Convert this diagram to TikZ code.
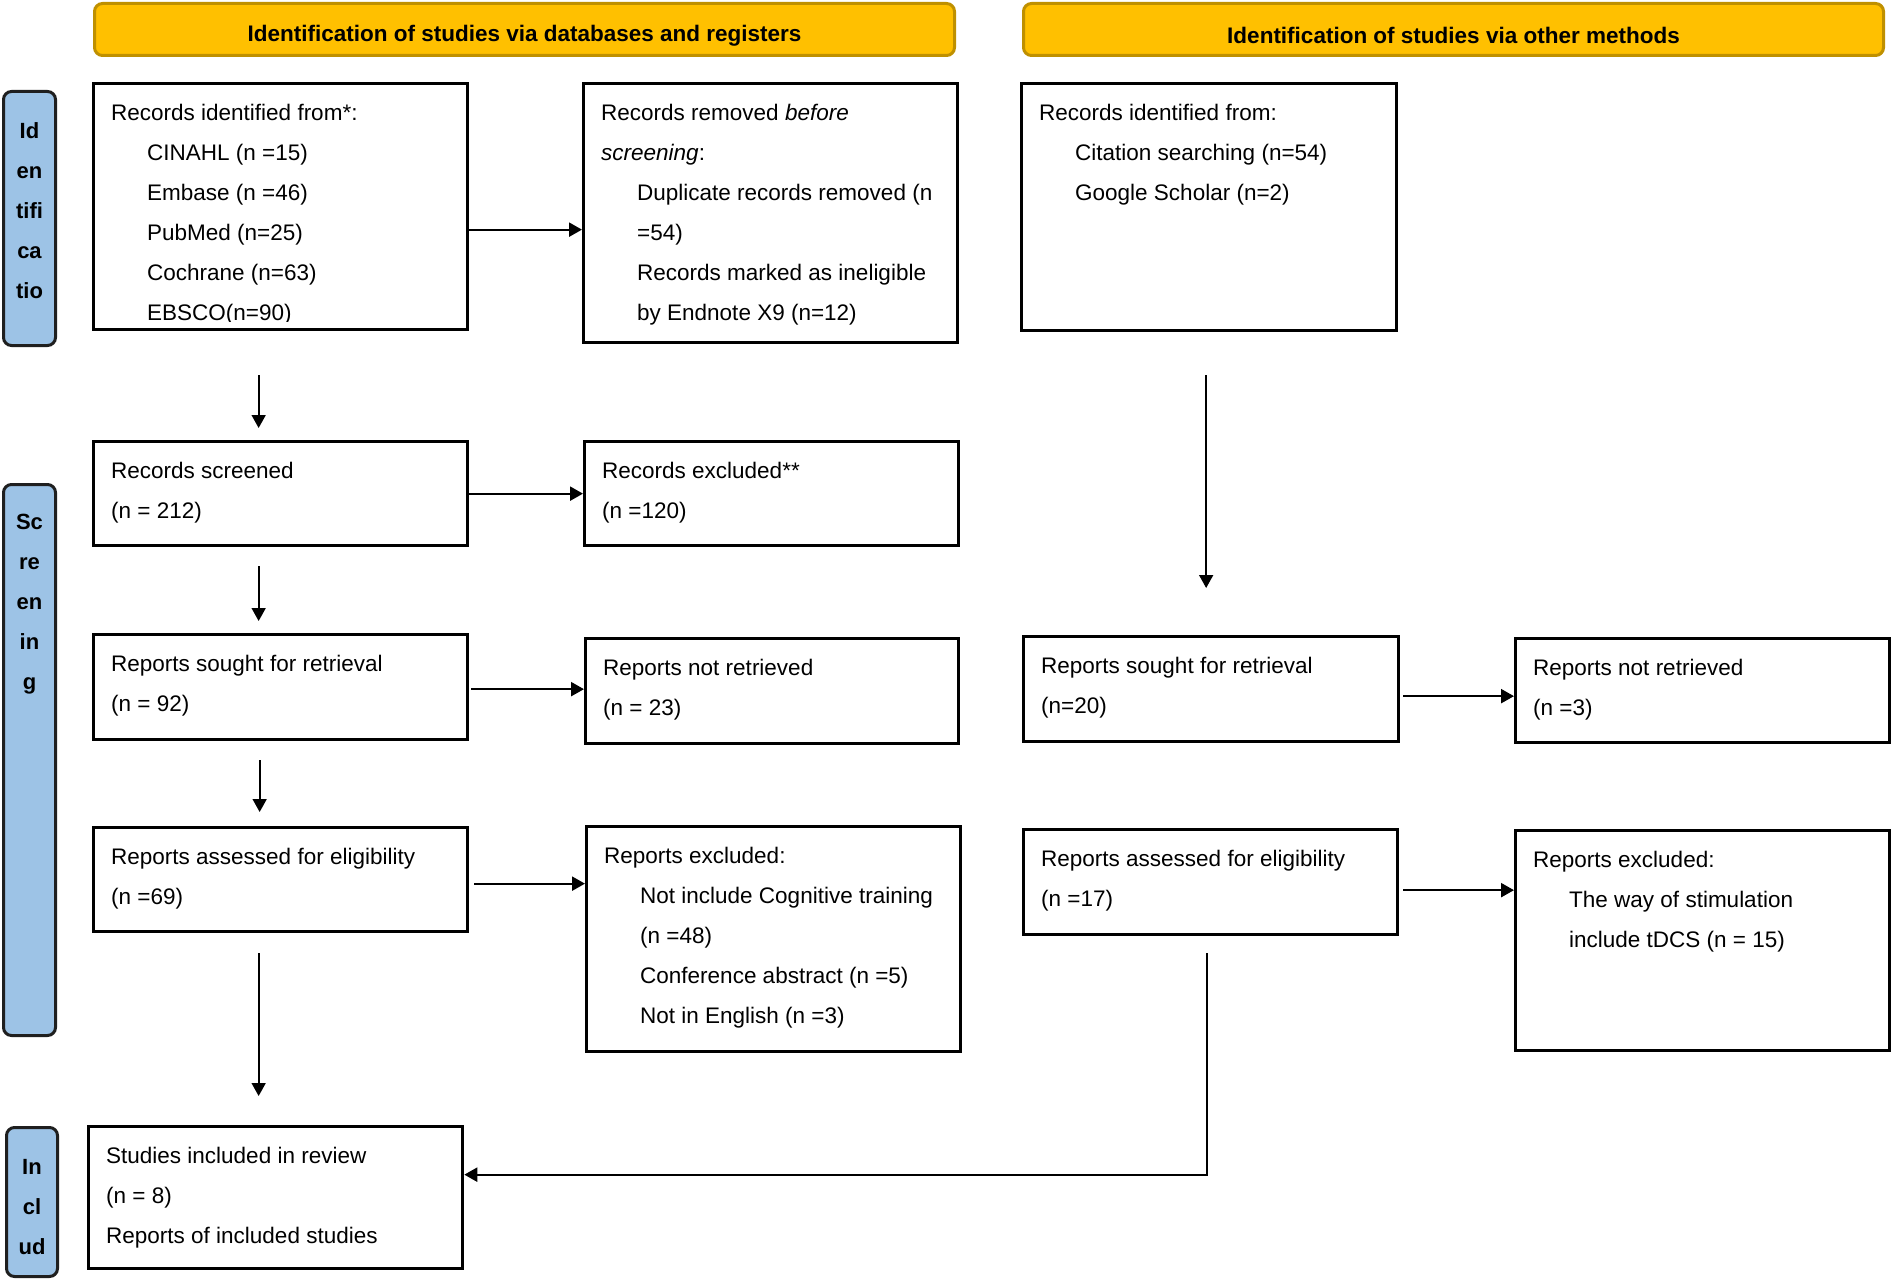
\documentclass[tikz,border=0pt]{standalone}
\usepackage{fontspec}
\setmainfont{Liberation Sans}
\usetikzlibrary{arrows.meta,calc}
\definecolor{hdrfill}{HTML}{FFC000}
\definecolor{hdrline}{HTML}{BF9000}
\definecolor{sidefill}{HTML}{9DC3E6}
\definecolor{sideline}{HTML}{1F1F1F}
\newcommand{\ind}{\hspace*{36pt}}
\tikzset{
 box/.style={draw, line width=3.3pt, inner sep=0pt, anchor=north west},
 txt/.style={inner sep=0pt, anchor=north west, align=left, font=\fontsize{22.5}{40}\selectfont},
 hdr/.style={draw=hdrline, fill=hdrfill, line width=3pt, rounded corners=8pt, anchor=north west, inner sep=0pt},
 hdrtxt/.style={inner sep=0pt, font=\bfseries\fontsize{22.5}{27}\selectfont},
 side/.style={draw=sideline, fill=sidefill, line width=3pt, rounded corners=8pt, anchor=north west, inner sep=0pt},
 sidetxt/.style={inner sep=0pt, anchor=north, align=center, font=\bfseries\fontsize{22}{40}\selectfont},
 harr/.style={line width=2.3pt, -{Triangle[length=13pt,width=14pt]}},
 varr/.style={line width=1.7pt, -{Triangle[length=13pt,width=14pt]}},
}
\begin{document}
\begin{tikzpicture}[x=1pt,y=-1pt]
\useasboundingbox (0,0) rectangle (1892,1279);
% headers
\node[hdr, minimum width=860pt, minimum height=52pt] (H1) at (93,2) {};
\node[hdrtxt] (H1t) at ([yshift=-6pt]H1.center) {Identification of studies via databases and registers};
\node[hdr, minimum width=860pt, minimum height=52pt] (H2) at (1022,2) {};
\node[hdrtxt] (H2t) at ([yshift=-6pt]H2.center) {Identification of studies via other methods};
% side labels
\node[side, minimum width=52pt, minimum height=254pt] (S1) at (2,90) {};
\node[sidetxt] (S1t) at ([yshift=-32pt]S1.north) {Id\\en\\tifi\\ca\\tio};
\node[side, minimum width=52pt, minimum height=551pt] (S2) at (2,483) {};
\node[sidetxt] (S2t) at ([yshift=-31pt]S2.north) {Sc\\re\\en\\in\\g};
\node[side, minimum width=51pt, minimum height=149pt] (S3) at (5,1126) {};
\node[sidetxt] (S3t) at ([yshift=-33pt]S3.north) {In\\cl\\ud};
% boxes
\node[box, minimum width=374pt, minimum height=246pt] (A) at (92,82) {};
\node[box, minimum width=374pt, minimum height=259pt] (B) at (582,82) {};
\node[box, minimum width=375pt, minimum height=247pt] (C) at (1020,82) {};
\node[box, minimum width=374pt, minimum height=104pt] (D) at (92,440) {};
\node[box, minimum width=374pt, minimum height=104pt] (E) at (583,440) {};
\node[box, minimum width=374pt, minimum height=105pt] (F) at (92,633) {};
\node[box, minimum width=373pt, minimum height=105pt] (G) at (584,637) {};
\node[box, minimum width=375pt, minimum height=105pt] (H) at (1022,635) {};
\node[box, minimum width=374pt, minimum height=104pt] (I) at (1514,637) {};
\node[box, minimum width=374pt, minimum height=104pt] (J) at (92,826) {};
\node[box, minimum width=374pt, minimum height=225pt] (K) at (585,825) {};
\node[box, minimum width=374pt, minimum height=105pt] (L) at (1022,828) {};
\node[box, minimum width=374pt, minimum height=220pt] (M) at (1514,829) {};
\node[box, minimum width=374pt, minimum height=142pt] (N) at (87,1125) {};
% texts
\begin{scope}
\clip (A.north west) rectangle ([yshift=10pt]A.south east);
\node[txt] (At) at ([shift={(19,22)}]A.north west) {Records identified from*:\\\ind CINAHL (n =15)\\\ind Embase (n =46)\\\ind PubMed (n=25)\\\ind Cochrane (n=63)\\\ind EBSCO(n=90)};
\end{scope}
\node[txt] (Bt) at ([shift={(19,22)}]B.north west) {Records removed \textit{before}\\\textit{screening}:\\\ind Duplicate records removed (n\\\ind =54)\\\ind Records marked as ineligible\\\ind by Endnote X9 (n=12)};
\node[txt] (Ct) at ([shift={(19,22)}]C.north west) {Records identified from:\\\ind Citation searching (n=54)\\\ind Google Scholar (n=2)};
\node[txt] (Dt) at ([shift={(19,22)}]D.north west) {Records screened\\(n = 212)};
\node[txt] (Et) at ([shift={(19,22)}]E.north west) {Records excluded**\\(n =120)};
\node[txt] (Ft) at ([shift={(19,22)}]F.north west) {Reports sought for retrieval\\(n = 92)};
\node[txt] (Gt) at ([shift={(19,22)}]G.north west) {Reports not retrieved\\(n = 23)};
\node[txt] (Ht) at ([shift={(19,22)}]H.north west) {Reports sought for retrieval\\(n=20)};
\node[txt] (It) at ([shift={(19,22)}]I.north west) {Reports not retrieved\\(n =3)};
\node[txt] (Jt) at ([shift={(19,22)}]J.north west) {Reports assessed for eligibility\\(n =69)};
\node[txt] (Kt) at ([shift={(19,22)}]K.north west) {Reports excluded:\\\ind Not include Cognitive training\\\ind (n =48)\\\ind Conference abstract (n =5)\\\ind Not in English (n =3)};
\node[txt] (Lt) at ([shift={(19,22)}]L.north west) {Reports assessed for eligibility\\(n =17)};
\node[txt] (Mt) at ([shift={(19,22)}]M.north west) {Reports excluded:\\\ind The way of stimulation\\\ind include tDCS (n = 15)};
\node[txt] (Nt) at ([shift={(19,22)}]N.north west) {Studies included in review\\(n = 8)\\Reports of included studies};
% horizontal arrows
\coordinate (ab) at ([yshift=-23pt]A.east);
\draw[harr] (ab) -- (ab -| B.west);
\draw[harr] (D.east) -- (D.east -| E.west);
\coordinate (fg) at ([yshift=-2pt,xshift=2pt]F.east);
\draw[harr] (fg) -- (fg -| G.west);
\coordinate (jk) at ([yshift=-4pt,xshift=5pt]J.east);
\draw[harr] (jk) -- (jk -| K.west);
\coordinate (hi) at ([yshift=-7pt,xshift=3pt]H.east);
\draw[harr] (hi) -- (hi -| I.west);
\coordinate (lm) at ([yshift=-8pt,xshift=4pt]L.east);
\draw[harr] (lm) -- (lm -| M.west);
% vertical arrows
\draw[varr, shorten <=44pt, shorten >=12pt] ([xshift=-22pt]A.south) -- ([xshift=-22pt]D.north);
\draw[varr, shorten <=19pt, shorten >=12pt] ([xshift=-22pt]D.south) -- ([xshift=-22pt]F.north);
\draw[varr, shorten <=19pt, shorten >=14pt] ([xshift=-21pt]F.south) -- ([xshift=-21pt]J.north);
\coordinate (jn) at ([xshift=-22pt]J.south);
\draw[varr, shorten <=20pt, shorten >=29pt] (jn) -- (jn |- N.north);
\coordinate (ch) at ([xshift=-3pt]C.south);
\draw[varr, shorten <=43pt, shorten >=47pt] (ch) -- (ch |- H.north);
\coordinate (ln) at ([xshift=-4pt]L.south);
\draw[harr, shorten <=17pt] (ln) |- ([yshift=23pt]N.east);
\end{tikzpicture}
\end{document}
